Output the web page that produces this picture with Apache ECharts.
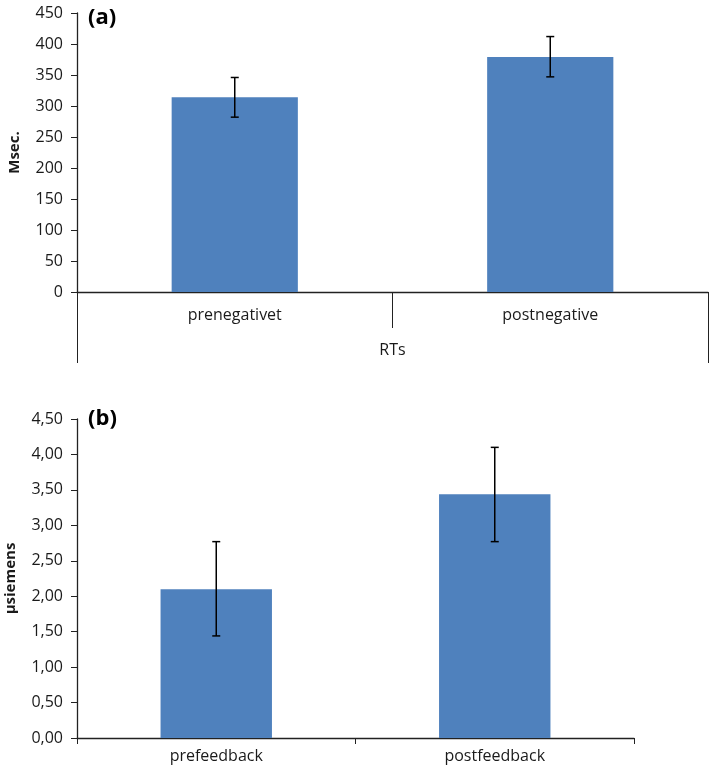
<!DOCTYPE html>
<html>
<head>
<meta charset="utf-8">
<script src="https://cdn.jsdelivr.net/npm/echarts@6/dist/echarts.min.js"></script>
<style>
html,body{margin:0;padding:0;background:#fff;}
#main{width:709px;height:768px;}
</style>
</head>
<body>
<div id="main"></div>
<script>
// Panel (a)
var categoriesA = ['prenegativet', 'postnegative'];
var groupA = ['RTs'];
var valuesA = [314, 379];
var errLowA = [282, 347];
var errHighA = [346, 412];
// Panel (b)
var categoriesB = ['prefeedback', 'postfeedback'];
var valuesB = [2.10, 3.44];
var errLowB = [1.44, 2.77];
var errHighB = [2.77, 4.10];

var FONT = '"Open Sans", "Liberation Sans", sans-serif';
var AX = '#222';
var TXT = '#1a1a1a';
var BAR = '#4F81BD';

function errData(lo, hi) {
  return lo.map(function (v, i) { return [i, v, hi[i]]; });
}
function errRender(params, api) {
  var x = api.value(0);
  var lo = api.coord([x, api.value(1)]);
  var hi = api.coord([x, api.value(2)]);
  var cap = 4;
  var st = { stroke: '#000', lineWidth: 1.5 };
  return {
    type: 'group',
    children: [
      { type: 'line', shape: { x1: lo[0], y1: lo[1], x2: hi[0], y2: hi[1] }, style: st },
      { type: 'line', shape: { x1: lo[0] - cap, y1: lo[1], x2: lo[0] + cap, y2: lo[1] }, style: st },
      { type: 'line', shape: { x1: hi[0] - cap, y1: hi[1], x2: hi[0] + cap, y2: hi[1] }, style: st }
    ]
  };
}
function yAxisCommon(name, gap, max, interval, fmt, gridIndex) {
  return {
    type: 'value', gridIndex: gridIndex, min: 0, max: max, interval: interval,
    name: name, nameLocation: 'middle', nameGap: gap,
    nameTextStyle: { fontFamily: FONT, fontWeight: 'bold', fontSize: 15, color: TXT },
    axisLine: { show: true, lineStyle: { color: AX, width: 1.3 } },
    axisTick: { show: true, length: 6, lineStyle: { color: AX } },
    axisLabel: { fontFamily: FONT, fontSize: 16, color: TXT, margin: 14, formatter: fmt },
    splitLine: { show: false }
  };
}

var chart = echarts.init(document.getElementById('main'), null, { renderer: 'canvas' });
chart.setOption({
  animation: false,
  backgroundColor: '#fff',
  grid: [
    { left: 77, top: 13, width: 631, height: 279, containLabel: false, outerBoundsMode: 'none' },
    { left: 77, top: 419, width: 557, height: 319, containLabel: false, outerBoundsMode: 'none' }
  ],
  graphic: [
    { type: 'text', left: 88, top: 7, style: { text: '(a)', font: 'bold 22px ' + FONT, fill: '#000' } },
    { type: 'text', left: 88, top: 408, style: { text: '(b)', font: 'bold 22px ' + FONT, fill: '#000' } }
  ],
  xAxis: [
    {
      type: 'category', gridIndex: 0, data: categoriesA, position: 'bottom',
      axisLine: { show: true, lineStyle: { color: AX, width: 1.3 } },
      axisTick: { show: true, length: 36, lineStyle: { color: AX } },
      axisLabel: { fontFamily: FONT, fontSize: 16, color: TXT, margin: 15 }
    },
    {
      type: 'category', gridIndex: 0, data: groupA, position: 'bottom', offset: 0,
      axisLine: { show: false },
      axisTick: { show: true, length: 71, lineStyle: { color: AX } },
      axisLabel: { fontFamily: FONT, fontSize: 16, color: TXT, margin: 50 }
    },
    {
      type: 'category', gridIndex: 1, data: categoriesB, position: 'bottom',
      axisLine: { show: true, lineStyle: { color: AX, width: 1.3 } },
      axisTick: { show: true, length: 6, lineStyle: { color: AX } },
      axisLabel: { fontFamily: FONT, fontSize: 16, color: TXT, margin: 10 }
    }
  ],
  yAxis: [
    yAxisCommon('Msec.', 55, 450, 50, null, 0),
    yAxisCommon('µsiemens', 59, 4.5, 0.5, function (v) { return v.toFixed(2).replace('.', ','); }, 1)
  ],
  series: [
    {
      type: 'bar', xAxisIndex: 0, yAxisIndex: 0, data: valuesA,
      barCategoryGap: '60%', itemStyle: { color: BAR }
    },
    {
      type: 'custom', xAxisIndex: 0, yAxisIndex: 0, data: errData(errLowA, errHighA),
      renderItem: errRender, z: 5
    },
    {
      type: 'bar', xAxisIndex: 2, yAxisIndex: 1, data: valuesB,
      barCategoryGap: '60%', itemStyle: { color: BAR }
    },
    {
      type: 'custom', xAxisIndex: 2, yAxisIndex: 1, data: errData(errLowB, errHighB),
      renderItem: errRender, z: 5
    }
  ]
});
</script>
</body>
</html>
